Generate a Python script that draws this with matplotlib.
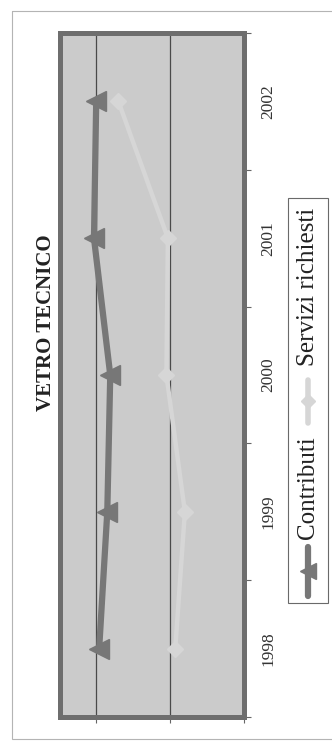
import matplotlib
matplotlib.use("Agg")
import matplotlib.pyplot as plt
from matplotlib.patches import Rectangle
from matplotlib.ticker import FixedLocator, FixedFormatter, NullFormatter

plt.rcParams['font.family'] = ['Liberation Serif', 'DejaVu Serif']

# Data
years = ['1998', '1999', '2000', '2001', '2002']
contributi = [1.96, 1.85, 1.81, 2.03, 2.00]
servizi_richiesti = [0.93, 0.80, 1.05, 1.03, 1.70]
series_names = ['Contributi', 'Servizi richiesti']
title = 'VETRO TECNICO'

W, H = 332, 742
fig = plt.figure(figsize=(W / 100, H / 100), dpi=100)
fig.patch.set_facecolor('white')

# Page-sized overlay in pixel units for frame, title and legend
ov = fig.add_axes([0, 0, 1, 1])
ov.set_xlim(0, W)
ov.set_ylim(H, 0)
ov.axis('off')
ov.add_patch(Rectangle((12, 11), 400, 728, fill=False, edgecolor='#b4b4b4', lw=0.8))

# Main chart, laid out sideways: values run right-to-left, years bottom-to-top
left, right, top, bottom = 60, 244, 33, 717
ax = fig.add_axes([left / W, (H - bottom) / H, (right - left) / W, (bottom - top) / H])
ax.set_facecolor('#cbcbcb')
ax.set_zorder(2)

c_dark = '#777777'
c_light = '#d6d6d6'
idx = list(range(len(years)))

ax.plot(servizi_richiesti, idx, color=c_light, lw=3.2, marker='D', ms=8.5,
        markeredgecolor=c_light, zorder=3, solid_capstyle='round')
ax.plot(contributi, idx, color=c_dark, lw=4.5, marker='<', ms=15,
        markeredgecolor=c_dark, zorder=4, solid_capstyle='round')

ax.set_xlim(2.49, 0)
ax.set_ylim(-0.5, len(years) - 0.5)

ax.set_axisbelow(True)
ax.set_xticks([0, 1, 2])
ax.xaxis.set_major_formatter(NullFormatter())
ax.xaxis.grid(True, color='#4a4a4a', lw=0.9)
ax.tick_params(axis='x', length=4, width=0.8, color='#666666', direction='out')

ax.yaxis.tick_right()
ax.yaxis.set_major_locator(FixedLocator([i - 0.5 for i in range(len(years) + 1)]))
ax.yaxis.set_major_formatter(NullFormatter())
ax.yaxis.set_minor_locator(FixedLocator(idx))
ax.yaxis.set_minor_formatter(FixedFormatter(years))
ax.tick_params(axis='y', which='major', length=5, width=0.8, color='#666666',
               direction='out', right=True, left=False)
ax.tick_params(axis='y', which='minor', length=0, right=True, left=False,
               labelright=True, labelleft=False, labelsize=12.5,
               labelrotation=90, pad=12, labelcolor='#333333')
for lab in ax.yaxis.get_minorticklabels():
    lab.set_va('center')

for s in ax.spines.values():
    s.set_color('#6e6e6e')
    s.set_linewidth(3.6)

# Title
ov.text(46, 323, title, rotation=90, ha='center', va='center',
        fontsize=15, fontweight='bold', color='#222222')

# Legend box
ov.add_patch(Rectangle((288, 198), 40, 405, facecolor='white',
                       edgecolor='#6a6a6a', lw=0.8))
ov.plot([308, 308], [547, 596], color=c_dark, lw=4.5, solid_capstyle='round')
ov.plot([308], [571], marker='<', ms=11, color=c_dark)
ov.text(308, 488, series_names[0], rotation=90, ha='center', va='center',
        fontsize=18, color='#222222')
ov.plot([308, 308], [380, 423], color=c_light, lw=4, solid_capstyle='round')
ov.plot([308], [401], marker='D', ms=7, color=c_light)
ov.text(308, 287, series_names[1], rotation=90, ha='center', va='center',
        fontsize=18, color='#222222')

fig.savefig('out.png', dpi=100)
